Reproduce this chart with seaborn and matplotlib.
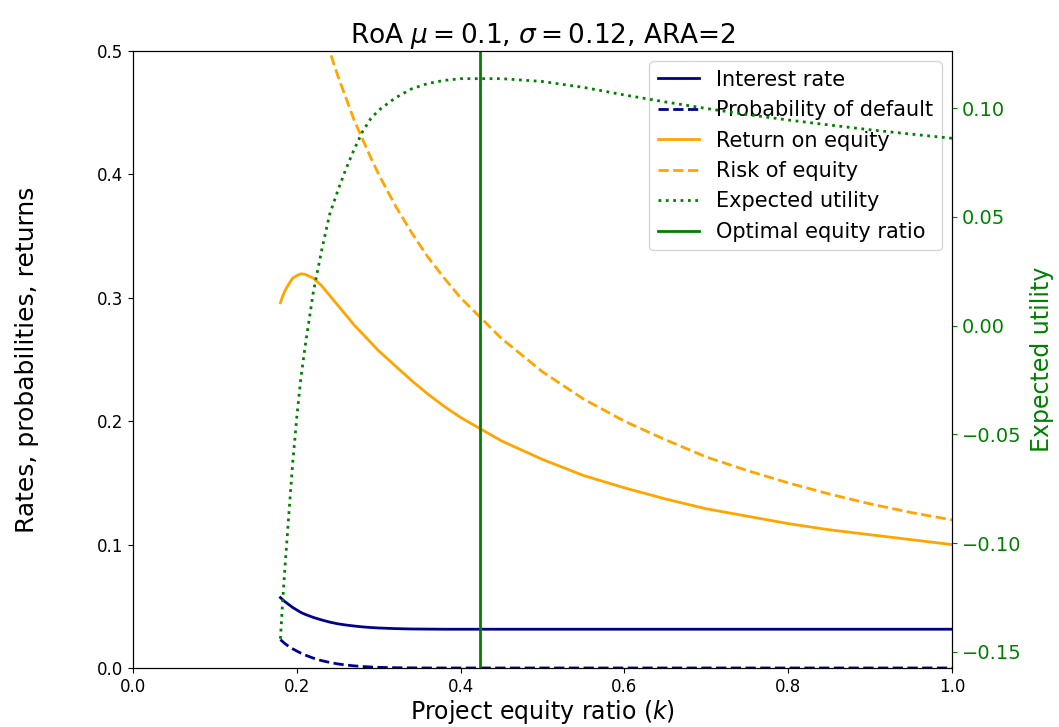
import matplotlib
matplotlib.use("Agg")
import matplotlib.pyplot as plt
import seaborn as sns
import pandas as pd

# project equity ratio grid (k)
k = [0.18, 0.1825, 0.185, 0.19, 0.195, 0.20, 0.205, 0.21, 0.22, 0.23, 0.24, 0.25,
     0.26, 0.27, 0.28, 0.29, 0.30, 0.32, 0.34, 0.36, 0.38, 0.40, 0.45, 0.50, 0.55,
     0.60, 0.65, 0.70, 0.75, 0.80, 0.85, 0.90, 0.95, 1.00]

interest_rate = [0.057, 0.0555, 0.054, 0.0515, 0.049, 0.047, 0.045, 0.0435, 0.041, 0.039,
                 0.0372, 0.0358, 0.0348, 0.034, 0.0333, 0.0328, 0.0324, 0.0319, 0.0316,
                 0.0315, 0.0314, 0.0314, 0.0314, 0.0314, 0.0314, 0.0314, 0.0314, 0.0314,
                 0.0314, 0.0314, 0.0314, 0.0314, 0.0314, 0.0314]
prob_default = [0.023, 0.0215, 0.020, 0.0175, 0.0155, 0.0137, 0.012, 0.0105, 0.008, 0.006,
                0.0045, 0.0033, 0.0024, 0.0017, 0.0012, 0.0008, 0.0005, 0.0002, 0.0001,
                0.0, 0.0, 0.0, 0.0, 0.0, 0.0, 0.0, 0.0, 0.0, 0.0, 0.0, 0.0, 0.0, 0.0, 0.0]
return_equity = [0.296, 0.301, 0.305, 0.311, 0.316, 0.318, 0.3195, 0.319, 0.316, 0.310,
                 0.302, 0.294, 0.286, 0.278, 0.271, 0.264, 0.257, 0.245, 0.233, 0.222,
                 0.212, 0.203, 0.184, 0.169, 0.156, 0.146, 0.137, 0.129, 0.123, 0.117,
                 0.112, 0.108, 0.104, 0.100]
risk_equity = [0.667, 0.658, 0.649, 0.632, 0.615, 0.600, 0.585, 0.571, 0.545, 0.522,
               0.500, 0.480, 0.462, 0.444, 0.429, 0.414, 0.400, 0.375, 0.353, 0.333,
               0.316, 0.300, 0.267, 0.240, 0.218, 0.200, 0.185, 0.171, 0.160, 0.150,
               0.141, 0.133, 0.126, 0.120]
expected_utility = [-0.144, -0.128, -0.114, -0.088, -0.063, -0.042, -0.024, -0.010, 0.015,
                    0.034, 0.051, 0.062, 0.072, 0.081, 0.089, 0.095, 0.099, 0.1046, 0.1088,
                    0.1113, 0.1127, 0.1135, 0.1135, 0.1122, 0.1095, 0.1060, 0.1028, 0.0998,
                    0.0970, 0.0945, 0.0922, 0.0900, 0.0880, 0.0861]
k_optimal = 0.4237

df = pd.DataFrame({"k": k, "ir": interest_rate, "pd": prob_default,
                   "roe": return_equity, "risk": risk_equity, "eu": expected_utility})

fig, ax = plt.subplots(figsize=(10.59, 7.27), dpi=100)
fig.subplots_adjust(left=0.1256, right=0.899, top=0.9298, bottom=0.0812)

sns.lineplot(data=df, x="k", y="ir", color="darkblue", lw=2, ax=ax, label="Interest rate")
sns.lineplot(data=df, x="k", y="pd", color="darkblue", lw=2, ls="--", ax=ax,
             label="Probability of default")
sns.lineplot(data=df, x="k", y="roe", color="orange", lw=2, ax=ax, label="Return on equity")
sns.lineplot(data=df, x="k", y="risk", color="orange", lw=2, ls="--", ax=ax,
             label="Risk of equity")
ax.set_xlim(0, 1)
ax.set_ylim(0, 0.5)
ax.set_xlabel("Project equity ratio ($k$)", fontsize=17, labelpad=2)
ax.set_ylabel("Rates, probabilities, returns", fontsize=18, labelpad=42)
ax.set_title(r"RoA $\mu = 0.1$, $\sigma = 0.12$, ARA=2", fontsize=19, pad=4)
ax.tick_params(labelsize=12)

ax2 = ax.twinx()
sns.lineplot(data=df, x="k", y="eu", color="green", lw=2, ls=":", ax=ax2,
             label="Expected utility")
ax2.axvline(k_optimal, color="green", lw=2, label="Optimal equity ratio")
ax2.set_ylim(-0.1574, 0.1262)
ax2.set_ylabel("Expected utility", color="green", fontsize=17, labelpad=6)
ax2.tick_params(axis="y", colors="green", labelsize=14)
ax2.spines["right"].set_color("black")

h1, l1 = ax.get_legend_handles_labels()
h2, l2 = ax2.get_legend_handles_labels()
ax2.get_legend().remove()
ax.legend(h1 + h2, l1 + l2, loc="upper right", fontsize=15)

fig.savefig("out.png")
